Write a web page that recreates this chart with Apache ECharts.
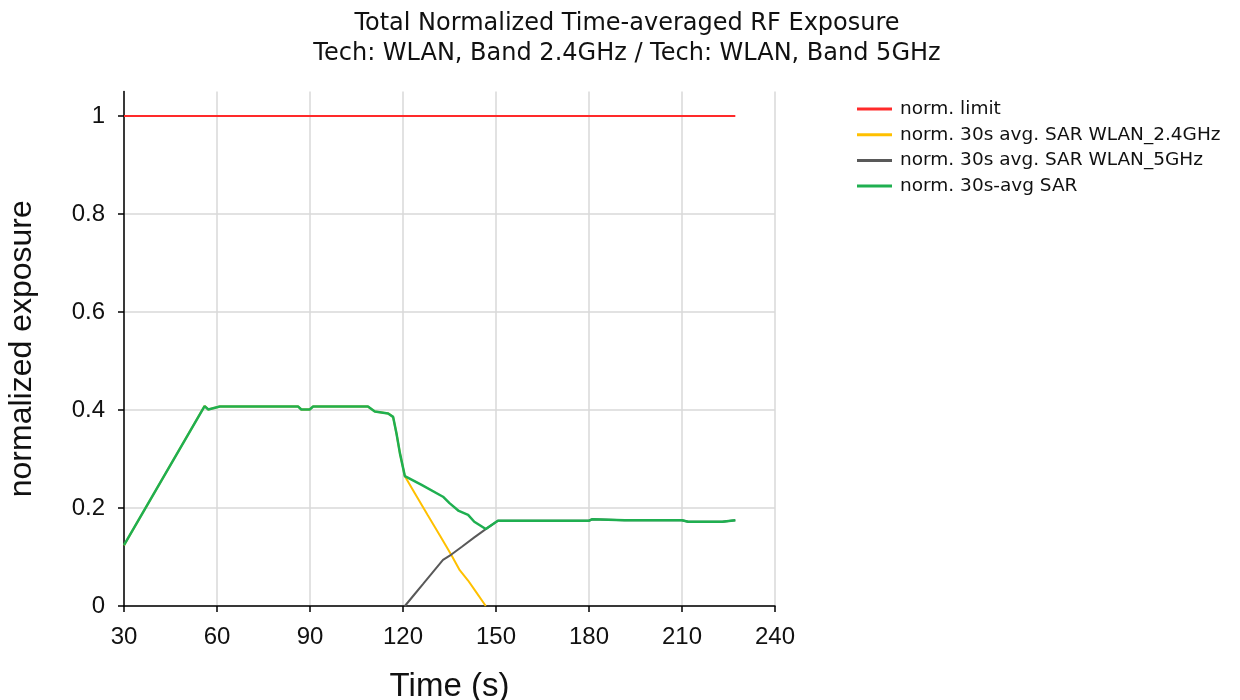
<!DOCTYPE html>
<html>
<head>
<meta charset="utf-8">
<script src="https://cdn.jsdelivr.net/npm/echarts@6/dist/echarts.min.js"></script>
<style>html,body{margin:0;padding:0;background:#fff}#c{width:1240px;height:700px}</style>
</head>
<body>
<div id="c"></div>
<script>
const xTicks = [30, 60, 90, 120, 150, 180, 210, 240];
const yTicks = [0, 0.2, 0.4, 0.6, 0.8, 1];

const limitT = [30, 227.2];
const limitV = [1, 1];

const band24T = [30, 56, 57.2, 60.9, 86.2, 87.2, 89.9, 91, 108.7, 110.9, 115.2, 116.8, 117.9, 119, 120.6, 124, 128, 132, 135.6, 138.3, 141, 143.1, 146.7];
const band24V = [0.124, 0.408, 0.401, 0.407, 0.407, 0.401, 0.401, 0.407, 0.407, 0.397, 0.393, 0.386, 0.352, 0.312, 0.265, 0.228, 0.185, 0.143, 0.104, 0.073, 0.052, 0.033, 0];

const band5T = [120.6, 124, 126.5, 129.5, 132.9, 135.6, 139, 143, 146.7, 150.6, 180, 181, 191.5, 210, 212, 223, 227.2];
const band5V = [0, 0.026, 0.045, 0.068, 0.094, 0.105, 0.121, 0.14, 0.157, 0.174, 0.174, 0.177, 0.175, 0.175, 0.172, 0.172, 0.175];

const totalT = [30, 56, 57.2, 60.9, 86.2, 87.2, 89.9, 91, 108.7, 110.9, 115.2, 116.8, 117.9, 119, 120.6, 126, 132.9, 135, 138, 141, 143, 146.7, 150.6, 180, 181, 191.5, 210, 212, 223, 227.2];
const totalV = [0.124, 0.408, 0.401, 0.407, 0.407, 0.401, 0.401, 0.407, 0.407, 0.397, 0.393, 0.386, 0.352, 0.312, 0.265, 0.247, 0.223, 0.21, 0.194, 0.186, 0.172, 0.157, 0.174, 0.174, 0.177, 0.175, 0.175, 0.172, 0.172, 0.175];

const names = ['norm. limit', 'norm. 30s avg. SAR WLAN_2.4GHz', 'norm. 30s avg. SAR WLAN_5GHz', 'norm. 30s-avg SAR'];

function pairs(t, v) { return t.map((x, i) => [x, v[i]]); }

const chart = echarts.init(document.getElementById('c'), null, {renderer: 'canvas'});
const FONT = 'Liberation Sans';
chart.setOption({
  animation: false,
  backgroundColor: '#fff',
  title: {
    text: 'Total Normalized Time-averaged RF Exposure\nTech: WLAN, Band 2.4GHz / Tech: WLAN, Band 5GHz',
    left: 622, top: 4, textAlign: 'center',
    textStyle: {fontFamily: 'DejaVu Sans', fontWeight: 'normal', fontSize: 24, lineHeight: 30, color: '#111'}
  },
  legend: {
    orient: 'vertical', left: 857, top: 99, padding: 0,
    icon: 'rect', itemWidth: 35, itemHeight: 3, itemGap: 5.7,
    textStyle: {fontFamily: 'DejaVu Sans', fontSize: 18.5, lineHeight: 20, color: '#111', padding: [0,0,0,3]},
    data: names
  },
  grid: {left: 124, right: 465, top: 91.5, bottom: 94, containLabel: false, outerBoundsMode: 'none'},
  xAxis: {
    type: 'value', min: 30, max: 240, interval: 30,
    name: 'Time (s)', nameLocation: 'middle', nameGap: 64,
    nameTextStyle: {fontFamily: FONT, fontSize: 33, color: '#111'},
    axisLine: {show: true, onZero: false, lineStyle: {color: '#000', width: 1.5}},
    axisTick: {show: true, inside: false, length: 6, lineStyle: {color: '#000', width: 1.5}},
    axisLabel: {fontFamily: FONT, fontSize: 24, color: '#111', margin: 19},
    splitLine: {show: true, lineStyle: {color: '#d9d9d9', width: 1.5}}
  },
  yAxis: {
    type: 'value', min: 0, max: 1.05, interval: 0.2,
    name: 'normalized exposure', nameLocation: 'middle', nameGap: 86,
    nameTextStyle: {fontFamily: FONT, fontSize: 32, color: '#111'},
    axisLine: {show: true, lineStyle: {color: '#000', width: 1.5}},
    axisTick: {show: true, inside: false, length: 6, lineStyle: {color: '#000', width: 1.5}, customValues: yTicks},
    axisLabel: {fontFamily: FONT, fontSize: 24, color: '#111', margin: 19, customValues: yTicks,
      formatter: v => (Math.round(v * 10) / 10).toString()},
    splitLine: {show: true, showMaxLine: false, lineStyle: {color: '#d9d9d9', width: 1.5}}
  },
  series: [
    {name: names[0], type: 'line', symbol: 'none', data: pairs(limitT, limitV), itemStyle: {color: '#ff2a2a'}, lineStyle: {color: '#ff2a2a', width: 2}},
    {name: names[1], type: 'line', symbol: 'none', data: pairs(band24T, band24V), itemStyle: {color: '#ffc000'}, lineStyle: {color: '#ffc000', width: 2}},
    {name: names[2], type: 'line', symbol: 'none', data: pairs(band5T, band5V), itemStyle: {color: '#595959'}, lineStyle: {color: '#595959', width: 2}},
    {name: names[3], type: 'line', symbol: 'none', data: pairs(totalT, totalV), itemStyle: {color: '#1faf50'}, lineStyle: {color: '#1faf50', width: 2.5}}
  ]
});
</script>
</body>
</html>
